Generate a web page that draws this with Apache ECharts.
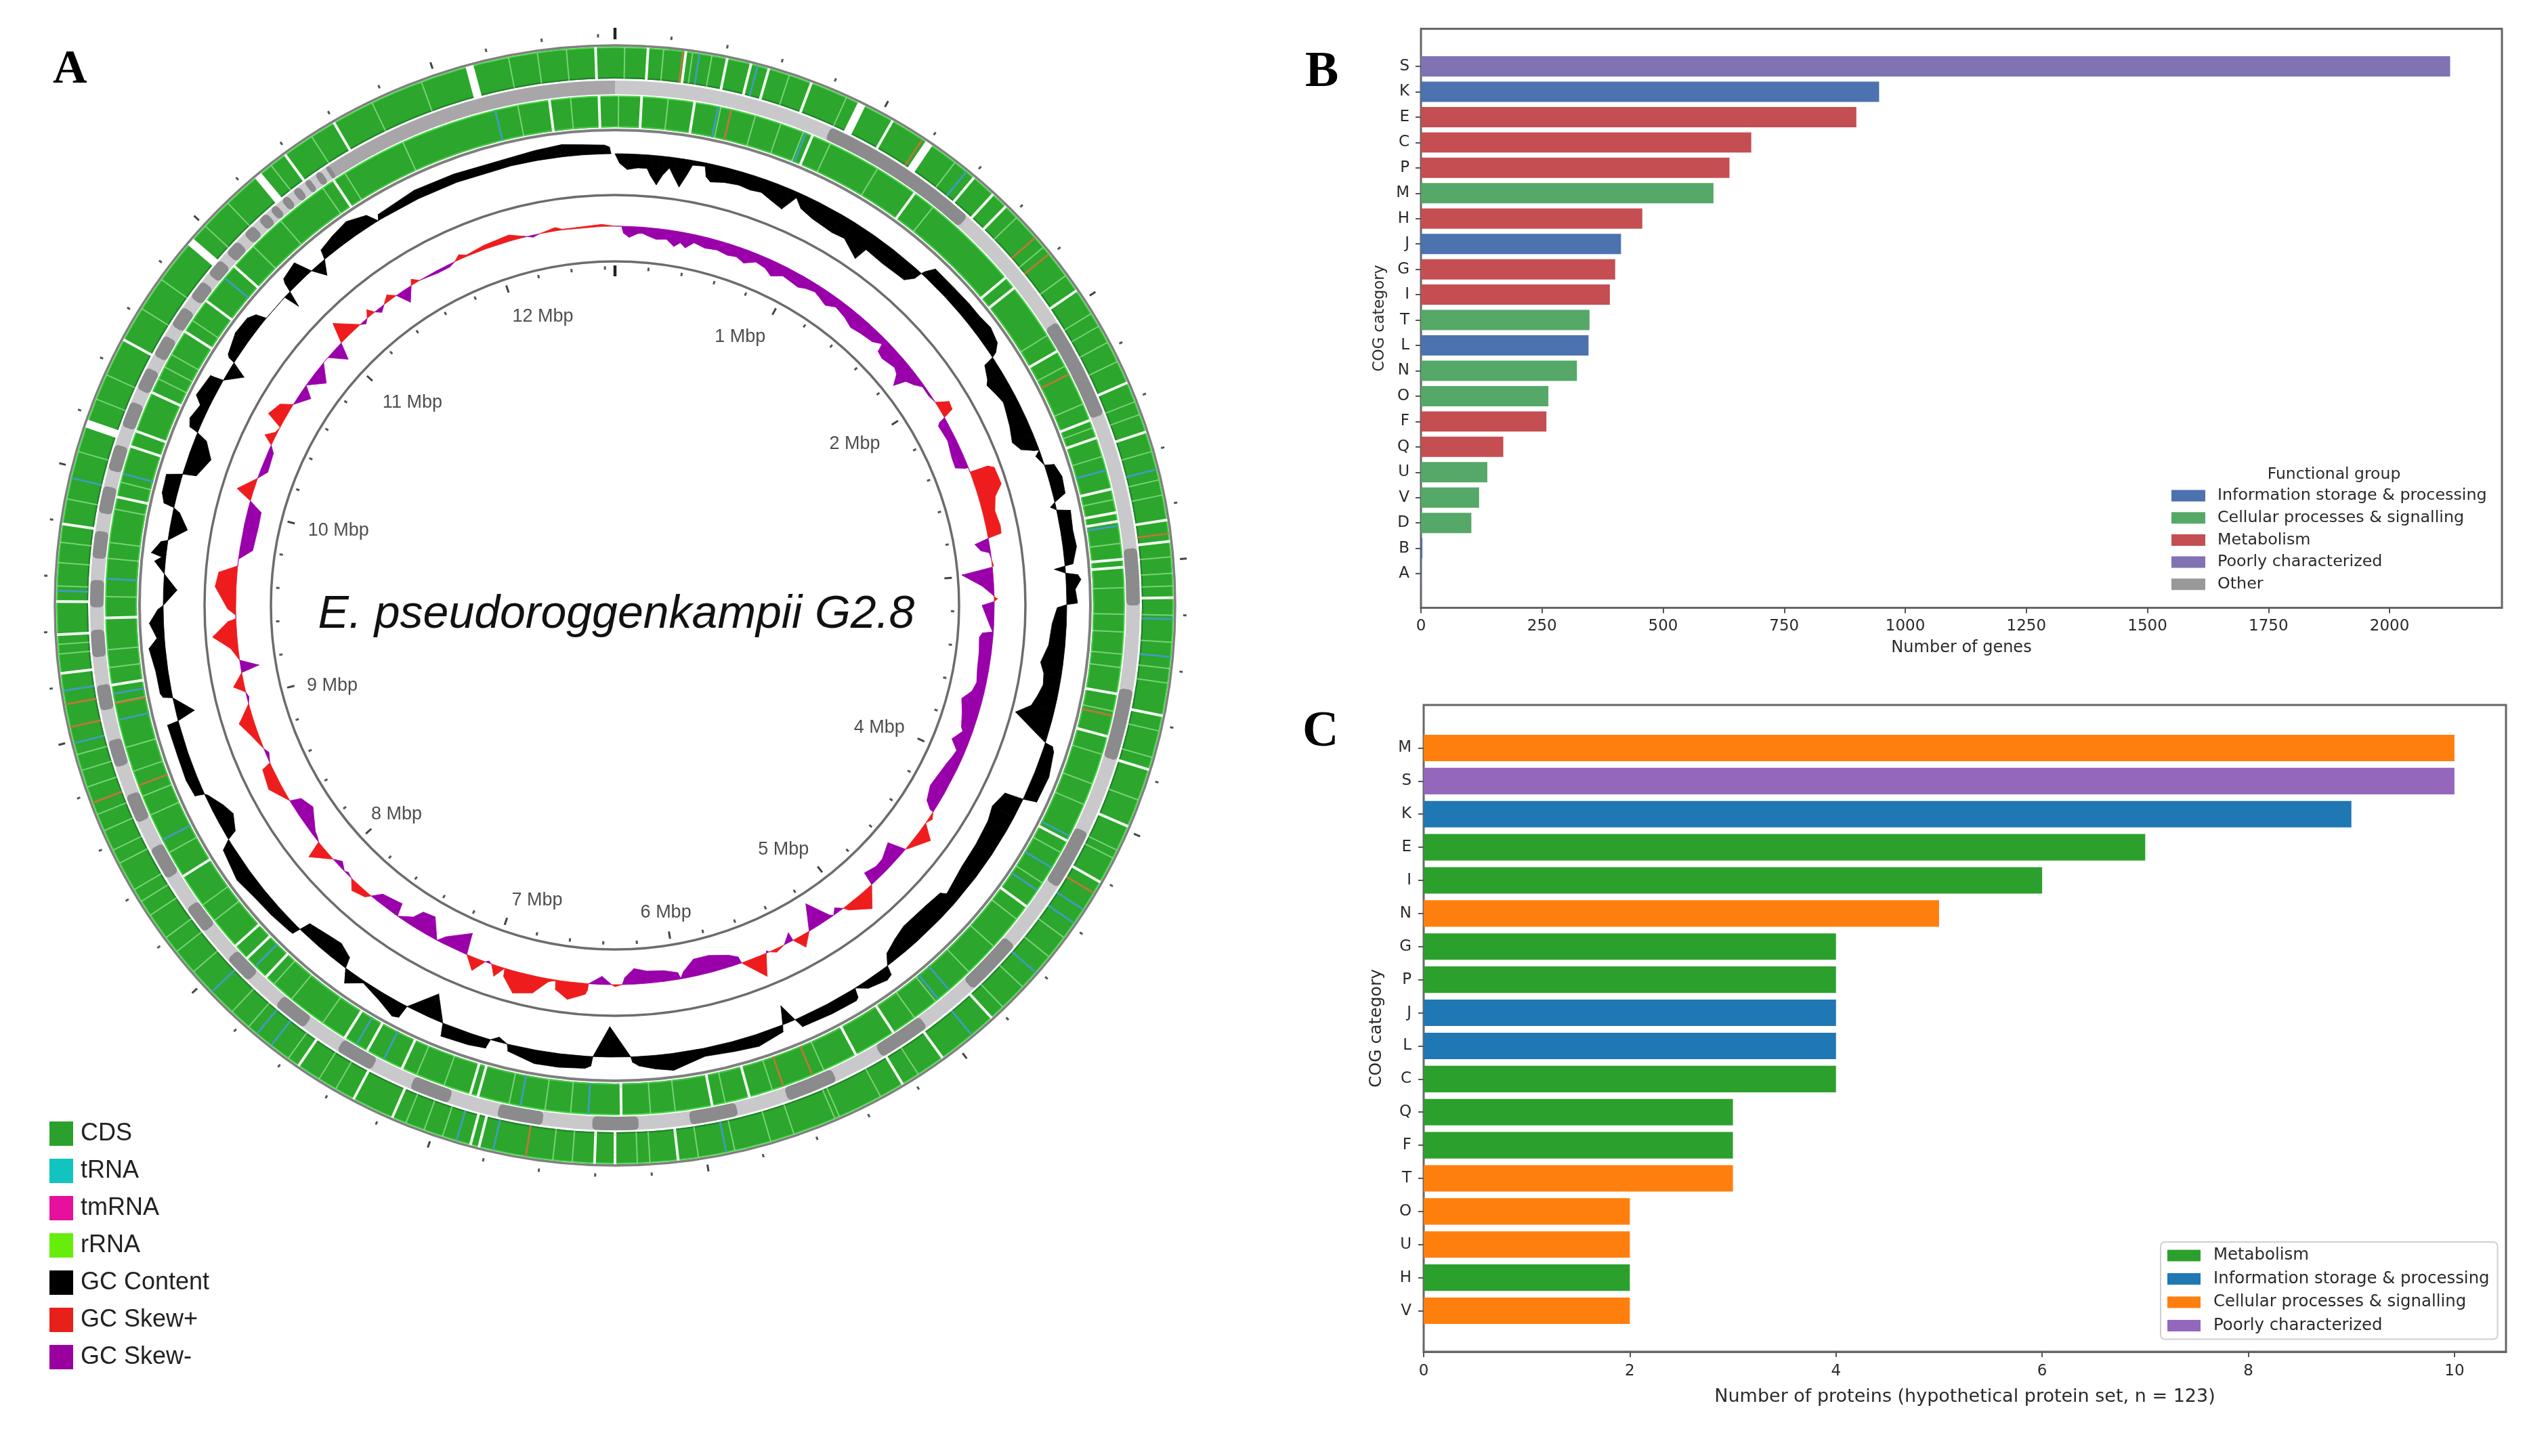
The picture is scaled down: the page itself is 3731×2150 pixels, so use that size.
<!DOCTYPE html>
<html><head><meta charset="utf-8">
<script src="https://cdn.jsdelivr.net/npm/echarts@6/dist/echarts.min.js"></script>
<style>html,body{margin:0;padding:0;background:#fff}#c{width:3731px;height:2150px}</style>
</head><body><div id="c"></div>
<script>
// ---------- Panel B ----------
const bCategories = ['S','K','E','C','P','M','H','J','G','I','T','L','N','O','F','Q','U','V','D','B','A'];
const bValues = [2125,946,899,682,637,604,457,413,401,390,348,346,322,263,259,170,137,120,104,3,1];
const bGroups = ['Poorly characterized','Information storage & processing','Metabolism','Metabolism','Metabolism','Cellular processes & signalling','Metabolism','Information storage & processing','Metabolism','Metabolism','Cellular processes & signalling','Information storage & processing','Cellular processes & signalling','Cellular processes & signalling','Metabolism','Metabolism','Cellular processes & signalling','Cellular processes & signalling','Cellular processes & signalling','Information storage & processing','Information storage & processing'];
const bLegend = ['Information storage & processing','Cellular processes & signalling','Metabolism','Poorly characterized','Other'];
const bColors = ['#4C72B0','#55A868','#C44E52','#8172B3','#999999'];
// ---------- Panel C ----------
const cCategories = ['M','S','K','E','I','N','G','P','J','L','C','Q','F','T','O','U','H','V'];
const cValues = [10,10,9,7,6,5,4,4,4,4,4,3,3,3,2,2,2,2];
const cGroups = ['Cellular processes & signalling','Poorly characterized','Information storage & processing','Metabolism','Metabolism','Cellular processes & signalling','Metabolism','Metabolism','Information storage & processing','Information storage & processing','Metabolism','Metabolism','Metabolism','Cellular processes & signalling','Cellular processes & signalling','Cellular processes & signalling','Metabolism','Cellular processes & signalling'];
const cLegend = ['Metabolism','Information storage & processing','Cellular processes & signalling','Poorly characterized'];
const cColors = ['#2CA02C','#1F77B4','#FF7F0E','#9467BD'];
// ---------- Panel A (positions read as degrees clockwise from 12 o'clock) ----------
const genomeMbp = 12.66;
const mbpTicksMajor = [0,1,2,3,4,5,6,7,8,9,10,11,12];
const mbpTicksMinor = [0.2,0.4,0.6,0.8,1.2,1.4,1.6,1.8,2.2,2.4,2.6,2.8,3.2,3.4,3.6,3.8,4.2,4.4,4.6,4.8,5.2,5.4,5.6,5.8,6.2,6.4,6.6,6.8,7.2,7.4,7.6,7.8,8.2,8.4,8.6,8.8,9.2,9.4,9.6,9.8,10.2,10.4,10.6,10.8,11.2,11.4,11.6,11.8,12.2,12.4,12.6];
const mbpLabels = ['1 Mbp','2 Mbp','4 Mbp','5 Mbp','6 Mbp','7 Mbp','8 Mbp','9 Mbp','10 Mbp','11 Mbp','12 Mbp'];
const mbpLabelRadius = [437,427,430,438,460,450,446,434,423,423,440];
const mbpLabelDeg = [25,56,114.8,145.4,170.6,194.8,226.3,254.2,285.2,315,346];
const legendA = ['CDS','tRNA','tmRNA','rRNA','GC Content','GC Skew+','GC Skew-'];
const legendAColors = ['#2CA02C','#12C4C0','#E6109C','#66EE0A','#000000','#E8201A','#99009F'];

const outerWideGaps = [26.2,34.2,289,310.6,320.3,344.9];
const outerGaps = [3.4,7.3,11.6,14.1,16,20.6,29.8,40,42.6,44.4,55.7,66.5,71.9,81.2,83.4,89.2,101.4,107.1,113.3,119.7,137.6,144.1,149,173.5,180,182.1,194.1,195,203.5,207.9,214.5,263,267,270.4,278.4,298.4,323.8,329.8,358];
const outerThin = [1,5,8,10,18.2,24.5,37.5,46,50.1,53.8,58.5,60,61.9,64.1,68.6,70,74,77,78.6,85,86.7,88,91,93.8,96.5,98,103,105.8,110.4,116,116.9,126.5,129,133.1,136,147.1,151.6,156.3,156.8,161.3,163.8,167.6,171.4,176.4,177.7,184.4,186.4,198,200,202,210,212,215.8,221,223.3,229,231.7,233.5,236.3,238,239.4,242.5,244,246.2,248,251,252.8,254.5,265,266,272,274.4,276.5,281,286,291.7,294.4,302.1,305.7,312.8,316.1,322,327.1,334.2,339.7,349,352,355];
const outerTrna = [8.7,14.8,39,75.9,91.4,95.3,123,124.7,131.1,140.3,168.5,192.6,196.5,218,219.9,226.2,255.7,261.2,271.5,283.2];
const outerBrown = [7,33.4,48.8,51,82.6,121,189.2,249.3,257.4,259.8];
const innerGaps = [3,9,22.8,36,50,51.5,60.1,68.7,70.8,76.8,79.5,80.5,84.8,85.7,100,104.9,117.5,126.2,146.9,151.8,164.7,169,179.3,195.6,196.5,204.7,209.1,212,223.2,226.2,228.1,237.9,261,268.6,282.3,288.2,290,294.7,302.5,306.7,311.7,326.5,352.6,358.2];
const innerThin = [0.4,6,12,16,19,21.7,25,31,38.6,58,62,66.7,69.6,73,78,83,88,91,93,95.5,97,102,107,110.5,113,119,123,128,132,136,141,144,155.8,162,167.5,173.2,176,185,187.9,192,199.6,202.9,215,219.4,222,231.8,234,241,245.7,248,251,253.8,259,263,265,271,275.3,277.1,280.9,284,296.4,297.9,299.5,304,314.8,319,325,328,335.4,349,355];
const innerTrna = [11.7,22,74.6,81,116.9,121,124,139,140.6,183,190.7,207,210.5,224.9,242.6,257,260,273,285,310,346.4];
const innerBrown = [13.2,63,102.5,157.2,160.7,249.3,258.9];
const contigLight = [[0,360]];
const contigMedium = [[327,360]];
const contigDark = [[24.3,42.2],[57.3,68.6],[83.7,90],[99.3,107.2],[115.7,122.5],[130.4,137],[143.5,149.4],[155,160.7],[166.4,171.7],[177.4,182.5],[188,193],[198.5,203],[207.7,212],[216.4,220.3],[224.3,227.6],[231.5,234.7],[238.6,242.3],[245.5,248.7],[252,255],[258.4,261.2],[264.3,267.3],[269.8,272.8],[275.2,278.2],[280.2,283.2],[285,287.9],[290,292.9],[294.4,297],[298.5,301],[302.3,304.7],[306,308.2],[309.2,311.2],[312.2,314],[315,316.4],[317.2,318.4],[318.9,319.8],[320.5,321.4],[322.1,323],[323.7,324.4],[325.1,325.9],[326.5,327]];
const gcProfile = [[0,0],[0.6,-14],[1.6,-23],[3,-20],[4.2,-20],[4.7,-30],[5.6,-43],[6.3,-28],[7.1,-16],[7.8,-28],[8.7,-42],[9.5,-22],[10,-7],[11.6,-5],[12,-20],[12.7,-26],[14.5,-22],[16.4,-20],[18,-22],[19.5,-20],[21,-26],[22.8,-32],[24,-8],[25.1,-20],[27,-26],[30.2,-30],[32,-28],[34.7,-44],[35.2,-24],[38,-26],[41.6,-24],[42.5,-12],[42.7,0],[42.9,6],[43.6,19],[47,19],[49.6,20],[51.5,20],[53.5,23],[55.5,18],[56.4,8],[56.7,0],[57,-16],[58.8,-24],[59.4,-29],[61,-24],[62.4,-20],[63.3,-22],[65.6,-27],[67.7,-33],[69,-25],[69.7,-8],[69.9,0],[70.5,-8],[71.9,0],[72.2,14],[73.9,20],[76,18],[76.8,0],[77.3,-8],[77.8,0],[78.2,20],[80.7,18],[82.7,20],[84.8,12],[85,0],[85.3,-16],[85.9,0],[86.2,18],[86.8,22],[88,13],[89.7,16],[89.9,0],[90.3,-14],[92.4,-21],[95.2,-24],[97.6,-33],[99,-26],[100.5,-24],[102,-29],[103.5,-35],[104.9,-55],[107.7,0],[107.9,12],[108.5,16],[111.6,22],[115,20],[115.4,0],[115.7,-28],[118,-36],[120,-31],[123.5,-28],[127,-26],[131,-18],[131.5,-26],[134,-29],[138,-30],[140,-24],[142,-15],[142.9,0],[143.2,14],[144,17],[146.5,11],[147.9,0],[148.2,14],[148.6,17],[152,16],[156,14],[156.5,0],[157.5,-27],[158.2,0],[158.5,10],[161.9,18],[165,15],[168.7,12],[172.8,25],[175,20],[177,14],[177.8,8],[178,0],[180.7,-45],[182.8,0],[183,14],[183.7,18],[187,20],[190,20],[193.5,10],[193.8,0],[195,-7],[196,0],[196.3,14],[198.5,17],[202,19],[202.4,0],[204.4,-37],[207,-5],[207.4,0],[207.7,20],[208.5,23],[210.9,12],[213.7,3],[215.6,19],[216.6,0],[217,-16],[219,-25],[221,-22],[223.8,-16],[224.2,0],[224.5,12],[225,13],[228,16],[231,18],[234,23],[238,15],[238.8,0],[239.3,-15],[241.4,-25],[243,-18],[245,-4],[245.3,0],[245.6,14],[247.8,17],[251,16],[255,17],[255.2,0],[256,-27],[258.2,0],[258.5,14],[259,17],[261.8,18],[264.7,24],[265.9,11],[267.8,21],[269.5,8],[270,0],[272,-20],[274,0],[275.5,16],[276.1,6],[276.5,22],[278,10],[278.3,0],[280,-26],[282,-10],[282.5,0],[282.8,16],[284,22],[286.3,23],[286.9,0],[287.2,-20],[289.8,-33],[291.9,-17],[292.5,0],[292.8,14],[293.8,19],[295.8,13],[296.7,25],[299.6,20],[299.9,0],[301.6,-24],[302.5,0],[302.7,10],[303,14],[305.7,23],[308,22],[309,15],[309.5,0],[313,0],[313.4,-24],[314,0],[314.3,14],[314.6,20],[316.9,26],[317.8,0],[318.9,-20],[320,0],[320.4,14],[322.6,20],[325,25],[327.5,16],[328.4,0],[328.8,8],[334.2,14],[339.5,13],[346.7,12],[350,15],[353.4,18],[356,15],[358.7,13],[359.3,10],[359.5,0]];
const skewProfile = [[0,0],[1,0],[1.3,-10],[2.2,-16],[3.5,-10],[4.2,-9],[5,-12],[6.4,-16],[8,-14],[9.3,-23],[10.2,-16],[11.1,-22],[12.3,-12],[14.1,-16],[16,-14],[17.8,-17],[19.2,-15],[20.6,-20],[22.3,-12],[24,-15],[25.3,-22],[27,-14],[29.9,-18],[31,-14],[32.5,-11],[33.5,-14],[35,-19],[36.5,-12],[38.5,-16],[40.3,-22],[42,-19],[44.3,-16],[45.6,-8],[46,-20],[47.2,-23],[49.6,-18],[50.6,-22],[51.7,-36],[52.4,-18],[53.5,-12],[54.6,-3],[56.3,-3],[57.6,0],[58.6,18],[59.8,16],[60.3,0],[60.6,-10],[61,-14],[63.7,-12],[66.3,-17],[68,-18],[68.6,-6],[68.7,0],[69.4,0],[69.5,28],[70,36],[72.5,38],[74,24],[76,18],[78.3,21],[79.4,20],[79.8,0],[80.4,-21],[81.5,-14],[82,-2],[83,0],[84,2],[84.2,0],[85,-46],[87,-17],[88.5,-1],[88.7,0],[89,5],[89.4,0],[90,-18],[93,-6],[94,-1],[94.3,-16],[95,-20],[97.3,-18],[99.8,-17],[102,-14],[103.5,-18],[105,-30],[107,-24],[109.3,-18],[109.9,-14],[111.6,-25],[113,-12],[114,-14],[115.6,-18],[119.7,-24],[122,-17],[122.9,-6],[123,0],[124,5],[125,0],[126.7,21],[129.6,3],[130,0],[131,-26],[133.5,-16],[135,-15],[137,-20],[137.4,0],[139.7,27],[142.5,7],[143,0],[144,-8],[144.8,0],[145.3,-4],[147.4,-37],[149.2,0],[150.8,18],[152,0],[152.1,-13],[153.5,0],[155,5],[156,0],[156.3,-3],[156.5,0],[157.7,32],[160.5,0],[160.7,-10],[162,-17],[165,-25],[167.5,-25],[169.4,-10],[170,-1],[170.3,-10],[172.4,-16],[175,-18],[177,-23],[178.5,-10],[178.9,0],[180,3],[180.5,0],[182,-12],[184,0],[184.1,10],[184.4,16],[186.9,26],[188.8,14],[189,1],[190,4],[191,14],[192,25],[194.8,32],[196.7,12],[196.9,0],[198.1,16],[199,0],[199.5,-3],[200,0],[201.4,19],[203,0],[203.5,-32],[207,-11],[208,0],[210,-29],[212,-26],[212.9,-12],[215,0],[215.5,-19],[218.8,-13],[220,0],[220.6,7],[222.7,13],[224,0],[225,-3],[225.5,0],[226.8,-8],[228,0],[230.6,25],[231.4,0],[232,-3],[233,-6],[236.3,-24],[238.4,-16],[239,0],[242,19],[245,14],[245.5,0],[247,-5],[247.8,0],[250.4,11],[252.5,22],[253,17],[255,0],[256,-3],[256.8,0],[257.9,16],[259.8,0],[260.5,-27],[261.7,0],[263.6,11],[265.5,36],[267.6,12],[268,0],[268.5,0],[269.5,12],[272.7,31],[274.8,27],[276,0],[277,0],[278.6,-19],[282.4,-21],[284.7,-20],[286,0],[287.2,24],[289.6,0],[291,-11],[294,-8],[295,0],[296,15],[297,3],[298,0],[299,25],[301,17],[302,0],[304.2,-17],[305.5,0],[307.6,-22],[309.8,0],[310.8,0],[312.7,-24],[313.8,0],[315,29],[317.8,0],[318.5,-5],[319.2,0],[320,10],[320.7,0],[321.5,-7],[322.5,0],[323.7,9],[324.8,0],[326,-20],[327.5,0],[328,8],[329,0],[332,-4],[334,-4],[335,0],[336,7],[337,2],[340,6],[344,9],[346,2],[347.5,-3],[348.5,0],[351,5],[352,1],[358,3],[360,0]];

// ---------- layout constants ----------
const FONT = 'DejaVu Sans', SANS = 'Liberation Sans', SERIF = 'Liberation Serif';
const toMbp = d => d * genomeMbp / 360;
const R = {axis:836, outerLine:827, o1:824, o0:778, g1:775, g0:755, i1:752, i0:706, innerLine:702, gc:667, mid:606, skew:560, core:508};

function polarBase(name, data, z, renderItem){
  return {type:'custom', name, coordinateSystem:'polar', polarIndex:0, z, silent:true, animation:false,
          encode:{radius:0, angle:1}, data, renderItem};
}
function ticks(name, vals, r0, r1, color, width, z){
  return polarBase(name, vals.map(v=>[r1, v]), z, (p,api)=>{
    const a = api.value(1), A = api.coord([r0,a]), B = api.coord([r1,a]);
    return {type:'line', shape:{x1:A[0],y1:A[1],x2:B[0],y2:B[1]}, style:{stroke:color, lineWidth:width}};
  });
}
const radial = (name, degs, r0, r1, color, width, z) => ticks(name, degs.map(toMbp), r0, r1, color, width, z);
function ring(name, segs, r0, r1, color, z, corner){
  return polarBase(name, segs.map(s=>[r1, toMbp(s[0]), toMbp(s[1])]), z, (p,api)=>{
    const s = api.value(1), e = api.value(2), cs = p.coordSys;
    const P0 = api.coord([r0,s]), P1 = api.coord([r1,s]), P2 = api.coord([r1,e]);
    const ang = q => Math.atan2(q[1]-cs.cy, q[0]-cs.cx);
    let a0 = ang(P1), a1 = ang(P2);
    if (e - s >= genomeMbp - 1e-6) { a0 = 0; a1 = Math.PI*2; }
    else if (a1 < a0) a1 += Math.PI*2;
    return {type:'sector', shape:{cx:cs.cx, cy:cs.cy, r0:Math.hypot(P0[0]-cs.cx,P0[1]-cs.cy), r:Math.hypot(P1[0]-cs.cx,P1[1]-cs.cy), startAngle:a0, endAngle:a1, clockwise:true, cornerRadius:corner||0}, style:{fill:color}};
  });
}
function circle(name, r, color, width, z){
  return polarBase(name, [[r, 0]], z, (p,api)=>{
    const cs = p.coordSys, P = api.coord([r,0]);
    return {type:'arc', shape:{cx:cs.cx, cy:cs.cy, r:Math.hypot(P[0]-cs.cx,P[1]-cs.cy), startAngle:0, endAngle:Math.PI*2, clockwise:true}, style:{stroke:color, lineWidth:width, fill:null}};
  });
}
function profile(name, pairs, base, keep, color, z){
  const rows = [];
  for (let i=0;i<pairs.length-1;i++){
    const sum = pairs[i][1]+pairs[i+1][1];
    if (keep(sum)) rows.push([base, toMbp(pairs[i][0]), toMbp(pairs[i+1][0]), pairs[i][1], pairs[i+1][1]]);
  }
  return polarBase(name, rows, z, (p,api)=>{
    const a0 = api.value(1), a1 = api.value(2), v0 = api.value(3), v1 = api.value(4);
    const pts = [api.coord([base,a0]), api.coord([base+v0,a0]), api.coord([base+v1,a1]), api.coord([base,a1])];
    return {type:'polygon', shape:{points:pts}, style:{fill:color, stroke:color, lineWidth:0.8}};
  });
}
function barSeries(names, cats, vals, groups, colors, xi, yi, stack){
  return names.map((g,i)=>({type:'bar', name:g, xAxisIndex:xi, yAxisIndex:yi, stack, barWidth:'80%', animation:false, silent:true,
    itemStyle:{color:colors[i]}, data:cats.map((c,j)=>groups[j]===g?vals[j]:null)}));
}
const legendData = (names,colors)=>names.map((n,i)=>({name:n, itemStyle:{color:colors[i]}, icon:'rect'}));

const axisText = {fontFamily:FONT, fontSize:23, color:'#2a2a2a'};
function frameX(max, interval, gridIndex, name, nameSize, nameGap, margin){
  return {type:'value', gridIndex, min:0, max, interval, name, nameLocation:'middle', nameGap,
    nameTextStyle:{fontFamily:FONT, fontSize:nameSize, color:'#2a2a2a'},
    axisLine:{show:true, lineStyle:{color:'#666',width:3}}, axisTick:{show:true, length:8, lineStyle:{color:'#555',width:2}},
    axisLabel:{...axisText, margin, showMaxLabel:false, formatter:v=>String(v)}, splitLine:{show:false}};
}
function frameY(gridIndex, name, size, gap){
  return {type:'value', gridIndex, min:0, max:1, name, nameLocation:'middle', nameGap:gap,
    nameTextStyle:{fontFamily:FONT, fontSize:size, color:'#2a2a2a'},
    axisLine:{show:false}, axisTick:{show:false}, axisLabel:{show:false}, splitLine:{show:false}};
}
function hiddenX(max, gridIndex){
  return {type:'value', gridIndex, min:0, max, show:false};
}
function catY(cats, gridIndex, margin){
  return {type:'category', gridIndex, data:cats, inverse:true,
    axisLine:{show:false}, axisTick:{show:true, length:8, alignWithLabel:true, lineStyle:{color:'#555',width:2}},
    axisLabel:{...axisText, margin, interval:0}, splitLine:{show:false}};
}
const letter = {fontFamily:SERIF, fontWeight:'bold', fontSize:74, color:'#000'};

const option = {
  backgroundColor:'#ffffff', animation:false,
  title:[
    {text:'A', left:73, top:64, textStyle:{...letter, fontSize:70}},
    {text:'B', left:1922, top:66, textStyle:letter},
    {text:'C', left:1918, top:1040, textStyle:letter},
    {text:'E. pseudoroggenkampii G2.8', left:905, top:903, textAlign:'center', textVerticalAlign:'middle',
     textStyle:{fontFamily:SANS, fontStyle:'italic', fontWeight:'normal', fontSize:68, color:'#111'}},
    {text:'Functional group', left:3441, top:696, textAlign:'center', textVerticalAlign:'middle',
     textStyle:{fontFamily:FONT, fontWeight:'normal', fontSize:23.5, color:'#2a2a2a'}}
  ],
  polar:[{center:[908,894], radius:[0,R.axis]}],
  angleAxis:[{polarIndex:0, type:'value', min:0, max:genomeMbp, startAngle:90, clockwise:true, show:false}],
  radiusAxis:[{polarIndex:0, type:'value', min:0, max:R.axis, show:false}],
  grid:[
    {left:2098, top:42.5, width:1596, height:855, show:true, borderColor:'#666', borderWidth:3, backgroundColor:'#fff', z:0},
    {left:2098, top:79.3, width:1596, height:786.5, show:false},
    {left:2102, top:1041, width:1598, height:955, show:true, borderColor:'#666', borderWidth:3, backgroundColor:'#fff', z:0},
    {left:2102, top:1080, width:1598, height:880, show:false}
  ],
  xAxis:[frameX(2232,250,0,'Number of genes',24,47,16), hiddenX(2232,1), frameX(10.5,2,2,'Number of proteins (hypothetical protein set, n = 123)',27,53,18), hiddenX(10.5,3)],
  yAxis:[frameY(0,'COG category',22.5,49), catY(bCategories,1,17), frameY(2,'COG category',25,57), catY(cCategories,3,18)],
  legend:[
    {left:3206, top:720, orient:'vertical', padding:0, itemWidth:50, itemHeight:17, itemGap:8.7, selectedMode:false, icon:'rect',
     textStyle:{fontFamily:FONT, fontSize:23.8, color:'#2a2a2a', padding:[0,0,0,13]}, data:legendData(bLegend,bColors)},
    {left:3190, top:1834, orient:'vertical', padding:[8,12,8,10], itemWidth:49, itemHeight:17, itemGap:10.5, selectedMode:false, icon:'rect',
     borderColor:'#cfcfcf', borderWidth:2, borderRadius:6, backgroundColor:'#fff',
     textStyle:{fontFamily:FONT, fontSize:24.4, color:'#2a2a2a', padding:[0,0,0,14]}, data:legendData(cLegend,cColors)},
    {left:73, top:1656, orient:'vertical', padding:0, itemWidth:35, itemHeight:36, itemGap:19, selectedMode:false, icon:'rect',
     textStyle:{fontFamily:SANS, fontSize:36, color:'#222', padding:[8,0,0,6]}, data:legendData(legendA,legendAColors)}
  ],
  series:[
    ...barSeries(bLegend,bCategories,bValues,bGroups,bColors,1,1,'b'),
    ...barSeries(cLegend,cCategories,cValues,cGroups,cColors,3,3,'c'),
    circle('Outer line',R.outerLine,'#7f7f7f',3.5,2),
    ring('CDS',[[0,360]],R.o0,R.o1,'#2CA62C',3),
    ring('CDS',[[0,360]],R.i0,R.i1,'#2CA62C',3),
    ring('Contig light',contigLight,R.g0,R.g1,'#C9C8CA',3),
    ring('Contig medium',contigMedium,R.g0,R.g1,'#A9A6A9',4),
    ring('Contig dark',contigDark,R.g0,R.g1,'#8B8A8C',5,6),
    circle('CDS edge',R.o1,'#46D646',2,5), circle('CDS edge',R.o0+1,'#1F7F2A',2,5),
    circle('CDS edge',R.i1,'#46D646',2,5), circle('CDS edge',R.i0+1,'#46C846',2,5),
    circle('Inner line',R.innerLine,'#7f7f7f',4,5),
    radial('Thin outer',outerThin,R.o0,R.o1,'rgba(170,240,170,0.6)',2,6),
    radial('Thin inner',innerThin,R.i0,R.i1,'rgba(170,240,170,0.6)',2,6),
    radial('tRNA',outerTrna,R.o0,R.o1,'#3F9DB5',3,6),
    radial('tRNA',innerTrna,R.i0,R.i1,'#3F9DB5',3,6),
    radial('Misc RNA',outerBrown,R.o0,R.o1,'#B47A3A',3,6),
    radial('Misc RNA',innerBrown,R.i0,R.i1,'#B47A3A',3,6),
    radial('Gap outer',outerGaps,R.o0-1,R.o1+1,'#F2FFF2',4,7),
    radial('Gap inner',innerGaps,R.i0-1,R.i1+1,'#F2FFF2',4,7),
    radial('Gap wide',outerWideGaps,R.o0-2,R.o1+1,'#FFFFFF',12,7),
    polarBase('tmRNA',[],7,()=>null),
    polarBase('rRNA',[],7,()=>null),
    profile('GC Content',gcProfile,R.gc,()=>true,'#000000',8),
    circle('Middle line',R.mid,'#6c6c6c',3.5,8),
    profile('GC Skew+',skewProfile,R.skew,s=>s>0,'#EE1C1C',8),
    profile('GC Skew-',skewProfile,R.skew,s=>s<=0,'#9900AA',8),
    circle('Core line',R.core,'#6c6c6c',3.5,8),
    ticks('Outer minor ticks',mbpTicksMinor,R.axis+3,R.axis+8,'#555555',3,8),
    ticks('Outer major ticks',mbpTicksMajor.slice(1),R.axis+1,R.axis+11,'#444444',3,8),
    ticks('Outer origin tick',[0],R.axis,R.axis+17,'#222222',4.5,8),
    ticks('Inner minor ticks',mbpTicksMinor,R.core-12,R.core-7,'#555555',3,8),
    ticks('Inner major ticks',mbpTicksMajor.slice(1),R.core-20,R.core-9,'#444444',3,8),
    ticks('Inner origin tick',[0],R.core-22,R.core-6,'#222222',4.5,8),
    {type:'scatter', name:'Mbp labels', coordinateSystem:'polar', polarIndex:0, z:9, silent:true, symbolSize:0, animation:false,
     data:mbpLabels.map((t,i)=>({name:t, value:[mbpLabelRadius[i], toMbp(mbpLabelDeg[i])]})),
     label:{show:true, position:'inside', formatter:'{b}', fontFamily:SANS, fontSize:27, color:'#222'}}
  ]
};
echarts.init(document.getElementById('c'),null,{renderer:'canvas',devicePixelRatio:1,width:3731,height:2150}).setOption(option);
</script></body></html>
